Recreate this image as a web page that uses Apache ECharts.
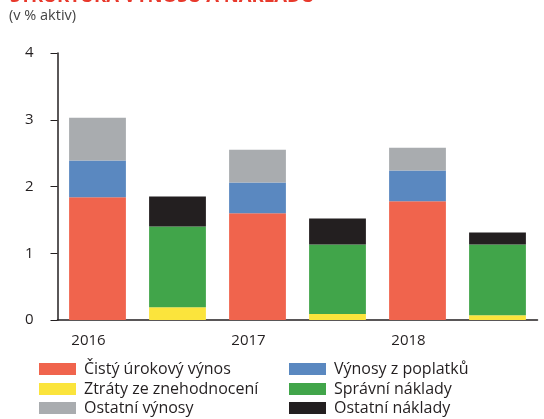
<!DOCTYPE html>
<html>
<head>
<meta charset="utf-8">
<script src="https://cdn.jsdelivr.net/npm/echarts@6/dist/echarts.min.js"></script>
<style>
  html, body { margin: 0; padding: 0; background: #fff; }
  #chart { width: 544px; height: 419px; }
</style>
</head>
<body>
<div id="chart"></div>
<script>
// struktura výnosů a nákladů (v % aktiv)
var years = ['2016', '2017', '2018'];
var yTicks = [0, 1, 2, 3, 4];

// výnosy
var cistyUrokovyVynos = [1.84, 1.60, 1.78];
var vynosyZPoplatku = [0.55, 0.46, 0.46];
var ostatniVynosy = [0.64, 0.49, 0.34];
// náklady
var ztratyZeZnehodnoceni = [0.19, 0.09, 0.07];
var spravniNaklady = [1.21, 1.04, 1.06];
var ostatniNaklady = [0.45, 0.39, 0.18];

(function() {
    var myChart = echarts.init(document.getElementById('chart'));
    var font = '"Open Sans", "Noto Sans", sans-serif';

    // two bars per year: výnosy, náklady
    var cats = [];
    years.forEach(function(y) { cats.push(y); cats.push(y + ' '); });

    function onRev(arr) {
        var out = [];
        arr.forEach(function(v) { out.push(v); out.push('-'); });
        return out;
    }
    function onCost(arr) {
        var out = [];
        arr.forEach(function(v) { out.push('-'); out.push(v); });
        return out;
    }

    function bar(name, data, color) {
        return {
            name: name,
            type: 'bar',
            stack: 'all',
            barWidth: '71%',
            data: data,
            itemStyle: { color: color },
            emphasis: { disabled: true }
        };
    }

    // one legend per item, laid out in two columns
    function legendItem(name, left, centerY) {
        return {
            left: left,
            top: centerY - 8,
            padding: 0,
            itemWidth: 37,
            itemHeight: 12,
            icon: 'rect',
            selectedMode: false,
            data: [name],
            textStyle: { fontFamily: font, fontSize: 16, lineHeight: 16, color: '#231f20', padding: [0, 0, 0, 3] }
        };
    }

    var option = {
        animation: false,
        graphic: [
            {
                type: 'text', left: 10, top: -13,
                style: { text: 'STRUKTURA VÝNOSŮ A NÁKLADŮ', fill: '#e8392c', font: 'bold 18.5px ' + font }
            },
            {
                type: 'text', left: 9, top: 8,
                style: { text: '(v % aktiv)', fill: '#444', font: '14.5px ' + font }
            }
        ],
        legend: [
            legendItem('Čistý úrokový výnos', 39, 369),
            legendItem('Ztráty ze znehodnocení', 39, 389),
            legendItem('Ostatní výnosy', 39, 408),
            legendItem('Výnosy z poplatků', 289, 369),
            legendItem('Správní náklady', 289, 389),
            legendItem('Ostatní náklady', 289, 408)
        ],
        grid: { left: 57.5, right: 6.5, top: 53, bottom: 99 },
        xAxis: {
            type: 'category',
            data: cats,
            axisLine: { lineStyle: { color: '#231f20', width: 1.5 } },
            axisTick: { show: false },
            axisLabel: {
                interval: 0,
                margin: 13,
                padding: [0, 18, 0, 0],
                fontFamily: font,
                fontSize: 15,
                color: '#231f20',
                formatter: function(v) { return v.slice(-1) === ' ' ? '' : v; }
            }
        },
        yAxis: {
            type: 'value',
            min: yTicks[0],
            max: yTicks[yTicks.length - 1],
            interval: 1,
            axisLine: { show: true, lineStyle: { color: '#231f20', width: 1.5 } },
            axisTick: { show: true, length: 7, lineStyle: { color: '#231f20' } },
            splitLine: { show: false },
            axisLabel: { margin: 24, fontFamily: font, fontSize: 15, color: '#231f20' }
        },
        series: [
            bar('Čistý úrokový výnos', onRev(cistyUrokovyVynos), '#f0644d'),
            bar('Výnosy z poplatků', onRev(vynosyZPoplatku), '#5a88c0'),
            bar('Ostatní výnosy', onRev(ostatniVynosy), '#a9acaf'),
            bar('Ztráty ze znehodnocení', onCost(ztratyZeZnehodnoceni), '#fbe43c'),
            bar('Správní náklady', onCost(spravniNaklady), '#41a54a'),
            bar('Ostatní náklady', onCost(ostatniNaklady), '#231f20')
        ]
    };

    myChart.setOption(option);

    window.addEventListener('resize', function() {
        myChart.resize();
    })
})()
</script>
</body>
</html>
